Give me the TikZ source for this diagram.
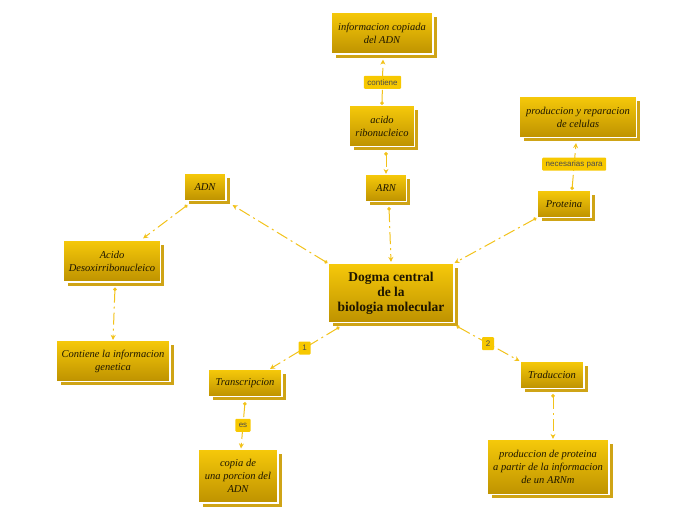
\documentclass[tikz,border=0pt]{standalone}
\usepackage{fontspec}
\setmainfont{Liberation Serif}
\setsansfont{Liberation Sans}
\usetikzlibrary{shadows,arrows.meta,calc}
\definecolor{gtop}{HTML}{F6C90A}
\definecolor{gbot}{HTML}{BE9200}
\definecolor{gshadow}{HTML}{CFA416}
\definecolor{gline}{HTML}{F2C21A}
\definecolor{glabel}{HTML}{F7C800}
\definecolor{txt}{HTML}{1E1600}
\tikzset{
  box/.style={rectangle, top color=gtop, bottom color=gbot, draw=white, line width=1.2pt,
    text=txt, align=center, font=\itshape\fontsize{10.5}{13}\selectfont, inner sep=2pt,
    general shadow={fill=gshadow, draw=white, line width=1pt, shadow xshift=4pt, shadow yshift=-4pt}},
  lbl/.style={rectangle, rounded corners=1pt, fill=glabel, text=black!70, font=\sffamily\fontsize{8}{9}\selectfont, inner ysep=2pt, inner xsep=3.5pt, minimum height=13pt, minimum width=12pt},
  conn/.style={draw=gline, line width=1pt, dash pattern=on 12pt off 4pt on 2pt off 4pt,
    {Circle[length=3.5pt]}-{Stealth[length=5pt,width=5pt]}},
}
\begin{document}
\begin{tikzpicture}[x=1pt,y=-1pt]
\useasboundingbox (0,0) rectangle (696,520);
\node[box, minimum width=126pt, minimum height=59pt, font=\bfseries\fontsize{13.5}{15}\selectfont] (c) at (391,293) {Dogma central\\de la\\biologia molecular};
\node[box, minimum width=42pt, minimum height=27pt] (adn) at (205,187) {ADN};
\node[box, minimum width=41pt, minimum height=27pt] (arn) at (386,188) {ARN};
\node[box, minimum width=65pt, minimum height=41pt] (ar) at (382,126) {acido\\ribonucleico};
\node[box, minimum width=102pt, minimum height=42pt] (info) at (382,33) {informacion copiada\\del ADN};
\node[box, minimum width=117pt, minimum height=41pt] (prod) at (578,117) {produccion y reparacion\\de celulas};
\node[box, minimum width=54pt, minimum height=27pt] (prot) at (564,204) {Proteina};
\node[box, minimum width=97pt, minimum height=42pt] (ad) at (112,261) {Acido\\Desoxirribonucleico};
\node[box, minimum width=114pt, minimum height=41pt] (cont) at (113,361) {Contiene la informacion\\genetica};
\node[box, minimum width=74pt, minimum height=27pt] (trans) at (245,383) {Transcripcion};
\node[box, minimum width=80pt, minimum height=54pt] (copia) at (238,476) {copia de\\una porcion del\\ADN};
\node[box, minimum width=64pt, minimum height=27pt] (trad) at (552,375) {Traduccion};
\node[box, minimum width=122pt, minimum height=55pt] (pp) at (548,467) {produccion de proteina\\a partir de la informacion\\de un ARNm};

\draw[conn] (c.north west) -- ($(adn.south east)+(6,4)$);
\draw[conn] ($(adn.south west)+(4,4)$) -- ($(ad.north east)+(-18,-1)$);
\draw[conn] ($(ad.south)+(3,5)$) -- (cont.north);
\draw[conn] ($(arn.south)+(3,5)$) -- ($(c.north)+(0,-1)$);
\draw[conn] ($(ar.south)+(4,5)$) -- (arn.north);
\draw[conn] (ar.north) -- node[lbl, solid]{contiene} ($(info.south)+(1,5)$);
\draw[conn] (prot.south west) -- (c.north east);
\draw[conn] ($(prot.north)+(8,0)$) -- node[lbl, solid, pos=0.55]{necesarias para} ($(prod.south)+(-2,5)$);
\draw[conn] ($(c.south west)+(12,4)$) -- node[lbl, solid]{1} ($(trans.north)+(25,0)$);
\draw[conn] ($(c.south east)+(2,3)$) -- node[lbl, solid]{2} (trad.north west);
\draw[conn] ($(trans.south)+(0,5)$) -- node[lbl, solid]{es} ($(copia.north)+(3,0)$);
\draw[conn] ($(trad.south)+(1,5)$) -- ($(pp.north)+(5,0)$);
\end{tikzpicture}
\end{document}
